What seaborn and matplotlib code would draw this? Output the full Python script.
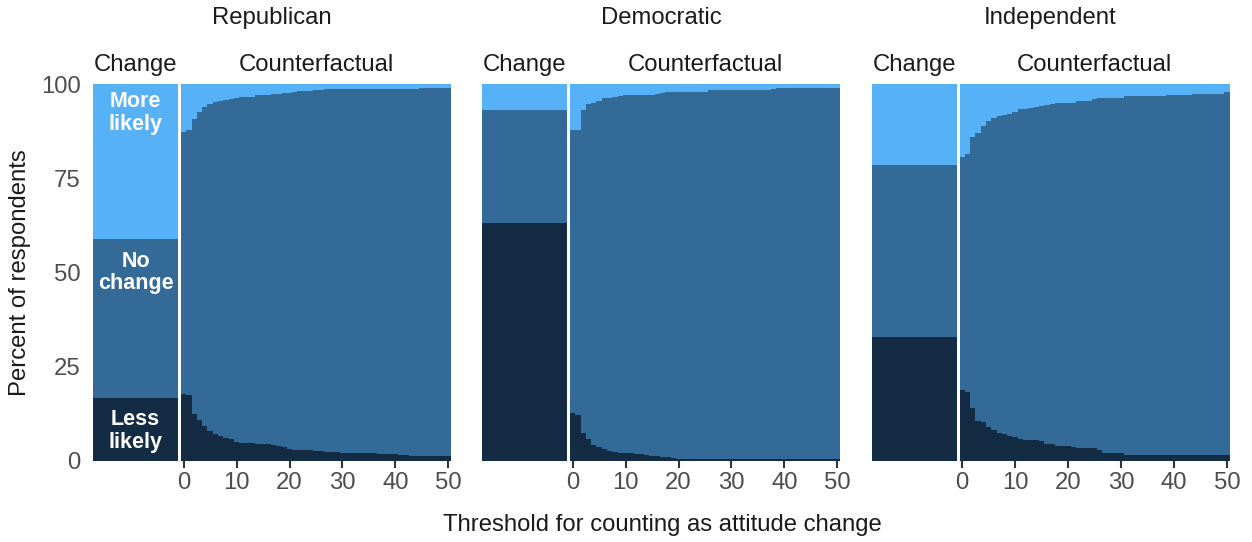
import numpy as np
import pandas as pd
import matplotlib
matplotlib.use("Agg")
import matplotlib.pyplot as plt
import seaborn as sns

parties = ["Republican", "Democratic", "Independent"]
thresholds = list(range(51))

# observed change (percent), per party
change_less = [16.7, 63.2, 32.8]
change_more = [41.2, 6.8, 21.4]

# counterfactual shares by threshold 0..50
cf_less = {
    "Republican": [17.8, 17.5, 12.3, 10.7, 9.2, 7.9, 7.1, 6.6, 6.0, 5.6, 5.0, 4.7, 4.7, 4.6, 4.5,
                   4.4, 4.3, 4.2, 3.8, 3.6, 3.1, 2.9, 2.8, 2.8, 2.7, 2.5, 2.4, 2.3, 2.3, 2.3,
                   2.1, 2.0, 2.0, 2.0, 2.0, 2.0, 1.9, 1.7, 1.7, 1.7, 1.7, 1.5, 1.5, 1.3, 1.3,
                   1.3, 1.2, 1.2, 1.2, 1.1, 1.1],
    "Democratic": [12.7, 12.1, 7.4, 5.6, 4.0, 3.5, 3.0, 2.4, 2.2, 2.1, 2.0, 1.9, 1.8, 1.6, 1.4,
                   1.2, 1.1, 0.9, 0.8, 0.7, 0.5, 0.45, 0.45, 0.45, 0.45, 0.45, 0.45, 0.45, 0.45,
                   0.45, 0.45, 0.45, 0.45, 0.35, 0.35, 0.35, 0.35, 0.35, 0.35, 0.35, 0.35, 0.35,
                   0.3, 0.3, 0.3, 0.3, 0.3, 0.3, 0.3, 0.3, 0.3],
    "Independent": [18.7, 18.1, 13.9, 10.6, 10.3, 8.8, 8.2, 7.3, 7.1, 6.6, 6.3, 5.6, 5.4, 5.4,
                    5.4, 5.3, 4.5, 4.3, 3.8, 3.8, 3.8, 3.5, 3.3, 3.3, 3.3, 3.3, 2.7, 2.0, 2.0,
                    2.0, 2.0, 1.4, 1.4, 1.4, 1.4, 1.4, 1.4, 1.4, 1.4, 1.4, 1.4, 1.4, 1.4, 1.4,
                    1.4, 1.4, 1.4, 1.4, 1.4, 1.4, 1.4],
}
cf_more = {
    "Republican": [12.7, 12.2, 9.3, 7.4, 5.9, 5.1, 4.7, 4.3, 4.0, 3.8, 3.6, 3.4, 3.4, 3.3, 2.9,
                   2.9, 2.7, 2.6, 2.5, 2.3, 2.2, 2.0, 1.8, 1.6, 1.6, 1.5, 1.4, 1.3, 1.3, 1.2,
                   1.2, 1.2, 1.2, 1.2, 1.2, 1.2, 1.1, 1.1, 1.1, 1.1, 1.1, 1.1, 1.1, 1.1, 1.1,
                   1.0, 1.0, 1.0, 1.0, 1.0, 1.0],
    "Democratic": [12.1, 12.0, 6.9, 5.2, 4.8, 4.3, 3.7, 3.5, 3.4, 3.0, 2.8, 2.8, 2.8, 2.7, 2.7,
                   2.7, 2.5, 2.2, 2.0, 2.0, 2.0, 1.9, 1.9, 1.9, 1.9, 1.9, 1.5, 1.5, 1.5, 1.5,
                   1.5, 1.5, 1.5, 1.5, 1.5, 1.5, 1.5, 1.5, 1.3, 1.0, 1.0, 1.0, 1.0, 1.0, 0.8,
                   0.8, 0.8, 0.8, 0.8, 0.8, 0.8],
    "Independent": [19.2, 18.6, 14.0, 12.9, 11.1, 9.8, 9.0, 8.5, 8.2, 7.9, 7.3, 6.6, 6.6, 6.3,
                    5.9, 5.7, 5.5, 5.2, 5.0, 4.8, 4.8, 4.8, 4.5, 4.3, 4.3, 3.8, 3.5, 3.5, 3.5,
                    3.5, 3.5, 3.0, 3.0, 3.0, 3.0, 3.0, 3.0, 3.0, 3.0, 2.7, 2.7, 2.7, 2.7, 2.7,
                    2.5, 2.5, 2.5, 2.5, 2.5, 2.5, 2.1],
}

c_more = "#56B1F7"
c_none = "#336A98"
c_less = "#132B43"

sns.set_theme(style="white")
plt.rcParams["font.family"] = ["Liberation Sans", "DejaVu Sans"]

W, H = 1252, 542
fig = plt.figure(figsize=(W / 100, H / 100), dpi=100)

top_px, bot_px = 84.5, 460.5
group_left = [93, 482, 871.5]
change_w, gap, cf_w = 85, 3, 270
fs = 17.2


def px_axes(x0, w):
    return fig.add_axes([x0 / W, 1 - bot_px / H, w / W, (bot_px - top_px) / H])


def stack(ax, x, less, more, **kw):
    less = np.asarray(less)
    upper = 100 - np.asarray(more)
    sns.barplot(x=x, y=[100] * len(x), color=c_more, ax=ax, **kw)
    sns.barplot(x=x, y=upper, color=c_none, ax=ax, **kw)
    sns.barplot(x=x, y=less, color=c_less, ax=ax, **kw)


bar_kw = dict(width=1, saturation=1, linewidth=0, errorbar=None)
txt_gray = "#4D4D4D"

for i, party in enumerate(parties):
    x0 = group_left[i]
    ax_c = px_axes(x0, change_w)
    ax_f = px_axes(x0 + change_w + gap, cf_w)

    stack(ax_c, ["Change"], [change_less[i]], [change_more[i]], **bar_kw)
    ax_c.set_xlim(-0.5, 0.5)

    stack(ax_f, thresholds, cf_less[party], cf_more[party], native_scale=True, **bar_kw)
    ax_f.set_xlim(-0.5, 50.5)
    ax_f.set_xticks([0, 10, 20, 30, 40, 50])
    ax_f.tick_params(axis="x", bottom=True, length=5, width=1.5, color="#333333",
                     labelsize=fs, labelcolor=txt_gray, pad=3)

    for ax in (ax_c, ax_f):
        ax.set_ylim(0, 100)
        ax.set_xlabel("")
        ax.set_ylabel("")
        for s in ax.spines.values():
            s.set_visible(False)
    ax_c.set_xticks([])
    ax_f.set_yticks([])
    if i == 0:
        ax_c.set_yticks([0, 25, 50, 75, 100])
        ax_c.tick_params(axis="y", left=False, length=0, labelsize=fs,
                         labelcolor=txt_gray, pad=9)
        for y, lab in [(92.5, "More\nlikely"), (50, "No\nchange"), (7.8, "Less\nlikely")]:
            ax_c.text(0, y, lab, ha="center", va="center", color="white",
                      fontsize=15.5, fontweight="bold", linespacing=1.12)
    else:
        ax_c.set_yticks([])

    ax_c.set_title("Change", fontsize=fs, color="#1A1A1A", pad=10)
    ax_f.set_title("Counterfactual", fontsize=fs, color="#1A1A1A", pad=10)
    gx = (x0 + (change_w + gap + cf_w) / 2) / W
    fig.text(gx, 1 - 18 / H, party, ha="center", va="center", fontsize=fs, color="#1A1A1A")

fig.text(20 / W, 1 - 272.5 / H, "Percent of respondents", rotation=90,
         ha="center", va="center", fontsize=fs, color="#1A1A1A")
fig.text(662 / W, 1 - 525 / H, "Threshold for counting as attitude change",
         ha="center", va="center", fontsize=fs, color="#1A1A1A")

fig.savefig("out.png", dpi=100, facecolor="white")
